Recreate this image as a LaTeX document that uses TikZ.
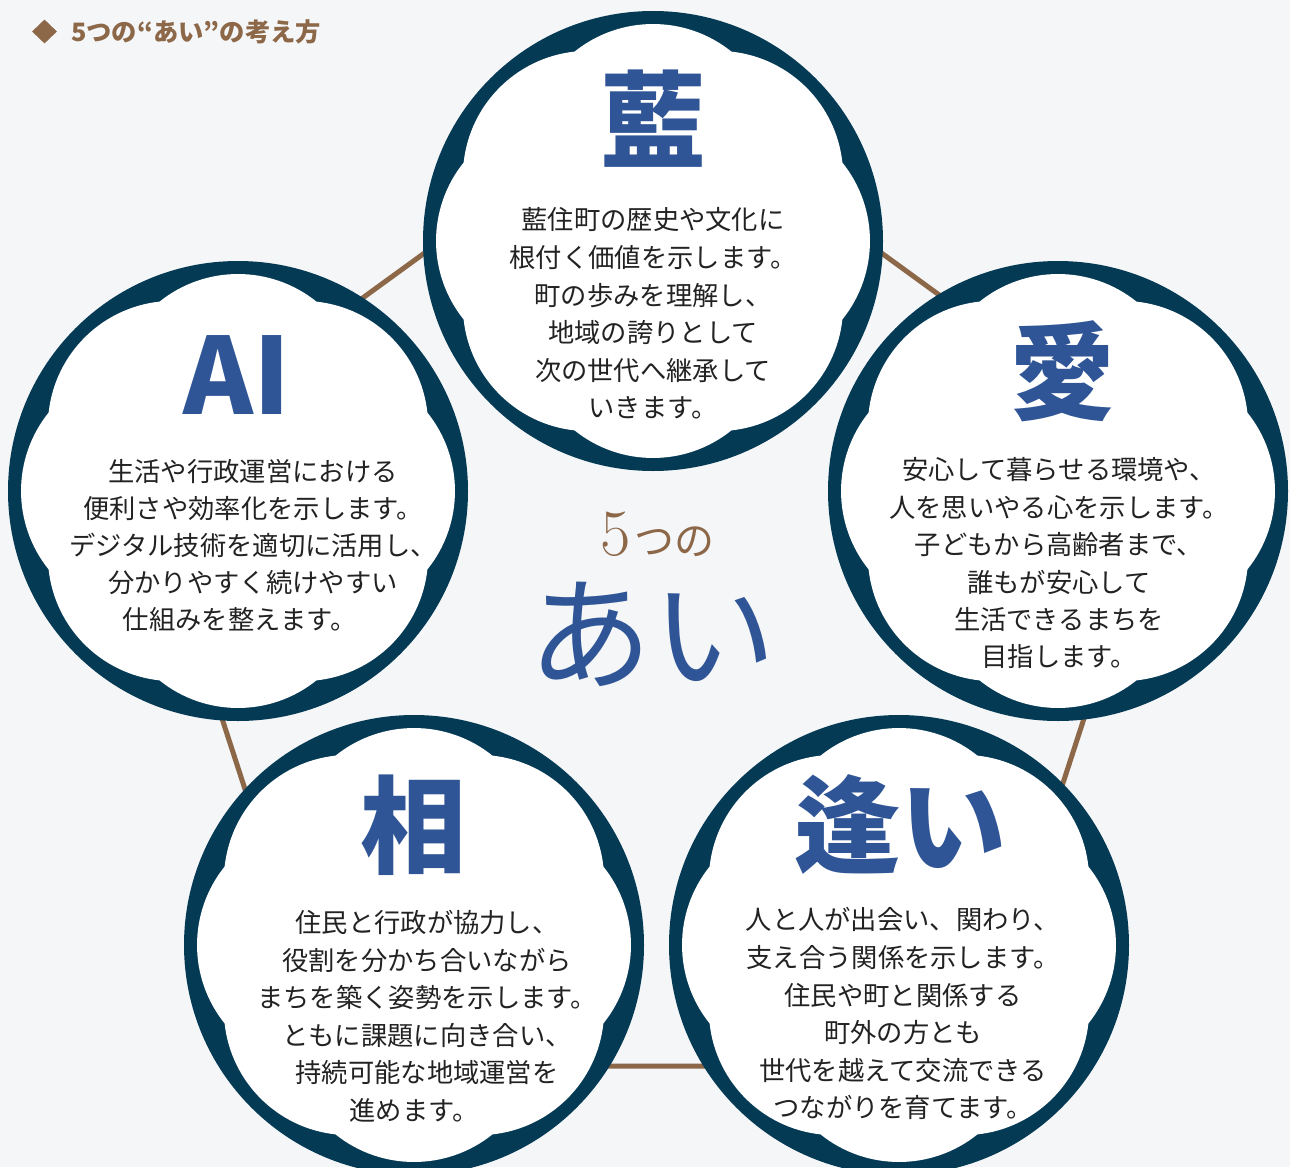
\documentclass[tikz,border=0pt]{standalone}
\usepackage{fontspec}
\newfontfamily\jp{Noto Sans CJK JP}
\usetikzlibrary{shapes.geometric}
\definecolor{bgc}{HTML}{F4F6F8}
\definecolor{navy}{HTML}{053A55}
\definecolor{titleblue}{HTML}{2F5597}
\definecolor{brownc}{HTML}{8C6748}
\definecolor{bodyc}{HTML}{222222}
\tikzset{
  bodytext/.style={font=\jp\fontsize{26.3}{30}\selectfont, text=bodyc, inner sep=0pt, text height=23.1pt, text depth=3.2pt},
  bigchar/.style={font=\jp\bfseries\fontsize{106}{110}\selectfont, text=titleblue, inner sep=0pt, text height=93.3pt, text depth=12.7pt},
  pentline/.style={draw=brownc, line width=5pt, line join=round},
}
\newcommand\flowerdisc[3]{%
  \coordinate (#1) at (#2,-#3);
  \fill[navy] (#1) circle[radius=230];
  \fill[white] ([shift={(#1)}]-22.5:205)
    \foreach \k in {0,...,7}{ -- ([shift={(#1)}]{\k*45-22.5}:205) arc[start angle={\k*45-38.76}, end angle={\k*45+38.76}, radius=125.29] } -- cycle;
}
\newcommand\bodyblock[5]{%
  \foreach \bline [count=\i] in {#5}{%
    \node[bodytext] (#1\i) at (#2, {-(#3)-(\i-1)*#4}) {\bline};
  }%
}
\begin{document}
\begin{tikzpicture}[x=1pt,y=1pt]
\useasboundingbox (0,0) rectangle (1290,-1167);
\clip (0,0) rectangle (1290,-1167);
\fill[bgc] (0,0) rectangle (1290,-1167);
% pentagon
\coordinate (pT) at (653,-87);
\coordinate (pUL) at (138.3,-461);
\coordinate (pUR) at (1167.7,-461);
\coordinate (pLL) at (335,-1066);
\coordinate (pLR) at (971,-1066);
\draw[pentline] (pT) -- (pUR) -- (pLR) -- (pLL) -- (pUL) -- cycle;
% flowers
\flowerdisc{fAi}{653}{241}
\flowerdisc{fLove}{1058}{491}
\flowerdisc{fAI}{238}{491}
\flowerdisc{fSou}{414}{945}
\flowerdisc{fAu}{899}{945}
% title
\node[diamond, fill=brownc, minimum width=25pt, minimum height=24pt, inner sep=0pt] (mark) at (44.5,-31.5) {};
\node[anchor=west, inner sep=0pt, text=brownc, font=\jp\bfseries\fontsize{25.3}{28}\selectfont, text height=22.3pt, text depth=3pt] (title) at (71,-31.5) {5つの“あい”の考え方};
% big characters
\node[bigchar] (tAi) at (653,-120) {藍};
\node[bigchar] (tLove) at (1062,-371) {愛};
\node[bigchar] (tAI) at (237,-374) {AI};
\node[bigchar] (tSou) at (413,-825) {相};
\node[bigchar] (tAu) at (900,-825) {逢い};
% centre
\node[anchor=base, inner sep=0pt, text=brownc] (five) at (657.5,-555) {{\fontsize{66}{68}\selectfont 5}\hspace{4pt}{\jp\fontsize{40}{42}\selectfont つの}};
\node[inner sep=0pt, text=titleblue, font=\jp\fontsize{124}{126}\selectfont, text height=109.1pt, text depth=14.9pt] (ai) at (652.5,-633) {あい};
% body texts
\bodyblock{bAi}{653}{220}{37.6}{藍住町の歴史や文化に,根付く価値を示します。,町の歩みを理解し、,地域の誇りとして,次の世代へ継承して,いきます。}
\bodyblock{bLove}{1059}{470}{37.4}{安心して暮らせる環境や、,人を思いやる心を示します。,子どもから高齢者まで、,誰もが安心して,生活できるまちを,目指します。}
\bodyblock{bAI}{253}{472}{37}{生活や行政運営における,便利さや効率化を示します。,デジタル技術を適切に活用し、,分かりやすく続けやすい,仕組みを整えます。　}
\bodyblock{bSou}{427}{923}{37.5}{住民と行政が協力し、,役割を分かち合いながら,まちを築く姿勢を示します。,ともに課題に向き合い、,持続可能な地域運営を,進めます。　}
\bodyblock{bAu}{903}{920}{37.6}{人と人が出会い、関わり、,支え合う関係を示します。,住民や町と関係する,町外の方とも,世代を越えて交流できる,つながりを育てます。}
\end{tikzpicture}
\end{document}
